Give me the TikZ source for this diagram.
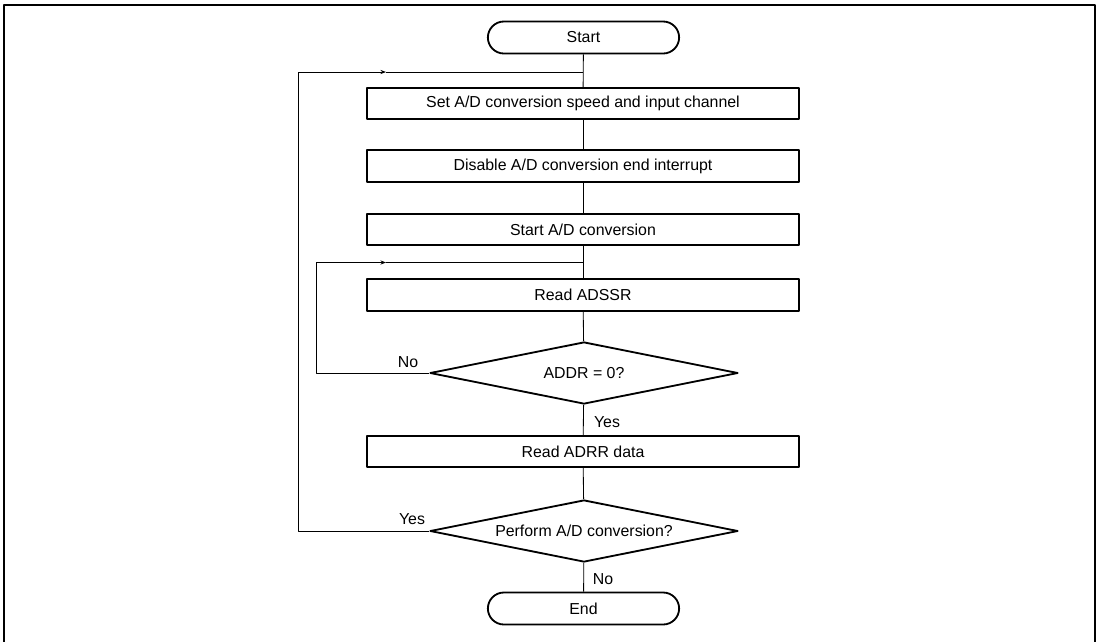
\documentclass[tikz,border=0pt]{standalone}
\usepackage{fontspec}
\setmainfont{Liberation Sans}
\usetikzlibrary{shapes.geometric,shapes.misc,arrows.meta}
\begin{document}
\begin{tikzpicture}[
        x=0.025cm, y=-0.025cm,
        line join=round,
        font=\fontsize{11.3}{13}\selectfont,
        % node styles
        term/.style={rounded rectangle, draw, line width=1.3pt,
            minimum width=4.78cm, minimum height=0.8cm, inner sep=0pt},
        proc/.style={rectangle, draw, line width=1.3pt,
            minimum width=10.8cm, minimum height=0.78cm, inner sep=0pt},
        decide/.style={diamond, draw, line width=1.3pt, aspect=5,
            minimum width=7.7cm, minimum height=1.55cm, inner sep=0pt},
        link/.style={line width=0.6pt},
        back/.style={link, -{Stealth[length=4pt,width=3pt]}},
        lbl/.style={inner sep=0pt},
    ]

    % outer frame
    \useasboundingbox (0,0) rectangle (1100,641);
    \draw[line width=2pt] (4,645) -- (4,5) -- (1095,5) -- (1095,645);

    % flow steps
    \node[term]   (start) at (583.5,37.5) {Start};
    \node[proc]   (speed) at (583,103.5)  {Set A/D conversion speed and input channel};
    \node[proc]   (intr)  at (583,166)    {Disable A/D conversion end interrupt};
    \node[proc]   (conv)  at (583,229.5)  {Start A/D conversion};
    \node[proc]   (ssr)   at (583,295)    {Read ADSSR};
    \node[decide] (addr)  at (584,373)    {ADDR = 0?};
    \node[proc]   (adrr)  at (583,451.5)  {Read ADRR data};
    \node[decide] (again) at (584,531)    {Perform A/D conversion?};
    \node[term]   (stop)  at (583.5,608.5) {End};

    % join points of the loops
    \coordinate (outerj) at (583,72);
    \coordinate (outera) at (386,72);
    \coordinate (outerl) at (298,72);
    \coordinate (innerj) at (583,262.5);
    \coordinate (innera) at (386,262.5);
    \coordinate (innerl) at (316,262.5);

    % main line
    \draw[link] (start) -- (speed);
    \draw[link] (speed) -- (intr);
    \draw[link] (intr) -- (conv);
    \draw[link] (conv) -- (ssr);
    \draw[link] (ssr) -- (addr);
    \draw[link] (addr) -- (adrr);
    \draw[link] (adrr) -- (again);
    \draw[link] (again) -- (stop);

    % loops back
    \draw[back] (addr.west) -| (innerl) -- (innera);
    \draw[link] (innera) -- (innerj);
    \draw[back] (again.west) -| (outerl) -- (outera);
    \draw[link] (outera) -- (outerj);

    % branch labels
    \node[lbl] (no1)  at (408,362) {No};
    \node[lbl] (yes1) at (607,422) {Yes};
    \node[lbl] (yes2) at (412,519) {Yes};
    \node[lbl] (no2)  at (603,579) {No};
\end{tikzpicture}
\end{document}
